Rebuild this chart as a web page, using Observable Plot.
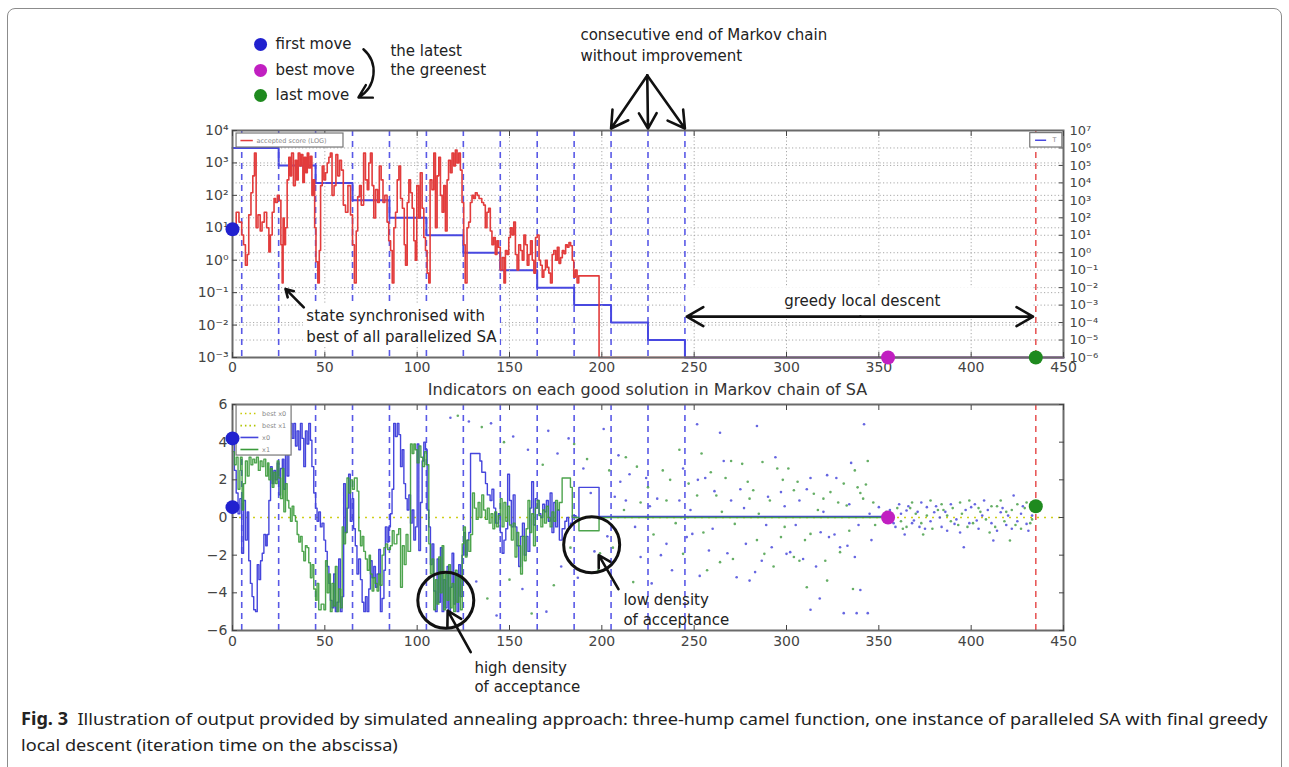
<!DOCTYPE html>
<html><head><meta charset="utf-8">
<script src="https://cdn.jsdelivr.net/npm/d3@7"></script>
<script src="https://cdn.jsdelivr.net/npm/@observablehq/plot@0.6"></script>
<style>
html,body{margin:0;padding:0;background:#fff;overflow:hidden;width:1289px;height:767px;}
#page{position:relative;width:1289px;height:767px;font-family:"DejaVu Sans",sans-serif;overflow:hidden;}
#border{position:absolute;left:7px;top:8px;width:1273px;height:820px;border:1.5px solid #8c8c8c;border-radius:8px;}
.layer{position:absolute;left:0;}
#title{position:absolute;left:232px;width:831px;top:380px;line-height:20px;text-align:center;font-size:16px;color:#333;}
#caption{position:absolute;left:21px;top:706px;font-family:"Noto Sans",sans-serif;font-size:17px;line-height:26px;color:#222;white-space:nowrap;transform-origin:0 0;}
#cap1{display:inline-block;}
</style></head><body><div id="page">
<div id="border"></div>
<div id="topT" class="layer" style="top:0"></div>
<div id="topMain" class="layer" style="top:0"></div>
<div id="title">Indicators on each good solution in Markov chain of SA</div>
<div id="bottom" class="layer" style="top:385px"></div>
<div id="caption"><span id="cap1"><b>Fig. 3</b>&nbsp; Illustration of output provided by simulated annealing approach: three-hump camel function, one instance of paralleled SA with final greedy</span><br>local descent (iteration time on the abscissa)</div>
</div>
<script>
// ---------- data ----------
const iterTicks = [0, 50, 100, 150, 200, 250, 300, 350, 400, 450];
const gridIters = [50, 100, 150, 200, 250, 300, 350, 400];
const chainEnds = [5, 25, 45, 65, 85, 105, 125, 145, 165, 185, 205, 225, 245];
const lastMoveIter = [435];
const scoreTicks = [1e-3, 1e-2, 1e-1, 1, 10, 100, 1e3, 1e4];
const tempTicks = [1e-6, 1e-5, 1e-4, 1e-3, 1e-2, 1e-1, 1, 10, 100, 1e3, 1e4, 1e5, 1e6, 1e7];
const posTicks = [-6, -4, -2, 0, 2, 4, 6];
const bestPosition = [0];

// accepted score (log axis), step series [iteration, score]
const acceptedScore = [
 [0,9],[1,12],[2,30],[3.5,15],[5,6],[6,3],[7,0.7],[8,1.5],[8.8,25],[10,120],[11,400],[11.9,2000],[12.8,10],[13.8,25],[15,8],[16,15],[17.2,30],[18.5,10],[19.7,1.8],[20.5,6],[21.5,30],[22.5,80],[23.3,60],[24.3,100],[25.3,70],[26.2,3],[26.9,0.2],[27.4,20],[28,3],[28.7,10],[29.6,300],[30.5,1500],[31.3,400],[32,2000],[33,200],[34,1200],[34.8,300],[35.6,2000],[36.5,800],[37.2,1800],[38.1,250],[38.9,1500],[39.7,500],[40.5,2000],[41.3,700],[42.2,1600],[43,100],[43.8,300],[44.5,10],[45.2,0.9],[46.2,0.2],[47,2],[47.7,200],[48.6,800],[49.5,300],[50.4,500],[51.3,1000],[52.2,1500],[53,2000],[53.9,100],[55,200],[56,1800],[57,400],[58,1200],[59,600],[60,50],[61.2,30],[62.5,200],[63.9,25],[65,3],[66,0.2],[67,8],[67.8,90],[68.8,200],[69.7,50],[71,2000],[72,300],[73,150],[73.8,1000],[74.7,2000],[75.6,200],[76.5,20],[77.5,150],[78.6,60],[79.5,800],[80.5,300],[81.5,60],[82.5,100],[83.7,15],[84.6,4],[85.6,2],[86.5,0.2],[87.4,10],[88.3,30],[89.2,300],[90.1,800],[91,80],[92,40],[93,3],[93.7,0.7],[94.6,60],[95.5,300],[96.4,120],[97.3,40],[98.2,4],[99,1],[99.8,200],[100.8,20],[101.7,500],[102.7,40],[103.6,5],[104.5,2],[105.4,0.4],[106.3,0.2],[107,300],[108,150],[109,2000],[109.9,10],[110.8,400],[111.7,1500],[112.6,100],[113.5,30],[114.4,200],[115.3,8],[116.2,300],[117,1200],[118,500],[118.9,2000],[119.8,800],[120.7,2500],[121.6,1000],[122.5,2000],[123.4,600],[124.3,60],[125.2,3],[126,0.2],[127,10],[127.9,15],[128.8,60],[129.7,100],[130.6,80],[131.5,120],[132.5,100],[133.5,80],[135,60],[136,50],[136.9,10],[137.8,30],[138.7,40],[139.6,8],[140.5,3],[141.4,5],[142.3,1.5],[143.2,4],[144,2.5],[145,0.5],[146,1.2],[147,0.2],[147.8,2],[148.7,1.5],[149.6,5],[150.5,10],[151.4,6],[152.3,15],[153.2,1.5],[154.1,0.5],[155,3],[156,2],[156.9,1],[157.8,6],[158.7,3],[159.6,0.7],[160.5,1.5],[161.4,4],[162.3,1],[163.2,0.4],[164.1,5],[165,6],[166,1],[166.8,0.7],[167.7,0.3],[168.6,0.5],[169.5,1],[170.4,0.6],[171.3,0.4],[172.2,0.2],[173.1,1.5],[174,2],[175,1],[175.9,2.5],[176.8,0.8],[177.7,1.2],[178.6,2],[179.5,1.6],[180.4,3],[181.3,2.5],[182.2,3.5],[183.1,2.8],[184,1],[184.8,0.3],[185.7,0.5],[186.6,0.2],[187.5,0.33],[198.5,0.001],[450,0.001]
];
// temperature T (right log axis), step series
const temperature = [[0,1e6],[25,1e5],[45,1e4],[65,1e3],[85,100],[105,10],[125,1],[145,0.1],[165,0.01],[185,1e-3],[205,1e-4],[225,1e-5],[245,1e-6],[450,1e-6]];

// accepted state coordinates (step series)
const x0Path = [
 [0,4.2],[1,2.5],[2,1.3],[3,0.2],[4,1.0],[5,-1.9],[6,0.9],[7,-1.2],[8,0.3],[8.8,-2.3],[9.7,-3.5],[10.6,-4.2],[11.5,-4.9],[12.5,-5],[13.4,-2.5],[14.3,-3.3],[15.2,-2.3],[16.1,-1.9],[17,-0.9],[18,-1.5],[18.8,-0.9],[19.7,0.9],[20.6,2.7],[21.5,1.8],[22.4,2.5],[23.3,2.0],[24.2,2.9],[25.1,1.2],[26,2.6],[27,3.1],[27.8,1.5],[28.7,3.5],[29.6,2.2],[30.5,4.4],[31.4,5],[32.3,4.2],[33.2,5],[34.1,3.8],[35,4.6],[35.9,3.6],[36.8,5],[37.7,4.2],[38.6,2.7],[39.5,4.6],[40.4,3.9],[41.3,5],[42.2,4.1],[43,2.7],[44,1.3],[45,0.5],[45.8,-0.2],[46.7,0.3],[47.6,-0.5],[48.5,-0.3],[49.5,-1.2],[50.4,-1.8],[51.3,-2.6],[52.2,-3.5],[53,-4.4],[53.9,-4.8],[54.8,-3],[55.7,-5],[56.6,-4.5],[57.5,-2.2],[58.4,-5],[59.3,-4.2],[60.2,1.8],[61.1,-0.8],[62,0.5],[62.9,2.3],[63.8,-0.2],[64.7,1.0],[65.6,-0.6],[66.5,-1.5],[67.4,-3.0],[68.3,-2.2],[69.3,-3.3],[70.2,-4.5],[71.1,-5],[72,-4.2],[72.9,-5],[73.8,-3.8],[74.7,-2.3],[75.6,-3.2],[76.5,-2.6],[77.4,-3.7],[78.3,-3.0],[79.2,-1.7],[80.1,-5],[81,-4.3],[82,-2.8],[82.8,-0.5],[83.7,-1.3],[84.6,-0.5],[85.5,0.2],[86.4,1.5],[87.3,5],[88.2,4.3],[89.2,5],[90.1,4.4],[91,2.7],[91.9,3.6],[92.8,1.8],[93.7,1.0],[94.6,0.4],[95.5,1.2],[96.4,-0.3],[97.3,0.4],[98.2,-1.2],[99.1,-0.5],[100,3.9],[100.9,-1.75],[101.8,0.8],[102.7,3.0],[103.6,4.0],[104.5,3.6],[105.4,0.4],[106.3,-0.5],[107.2,-2.5],[108.1,-1.4],[109,-3.9],[109.9,-5],[110.8,-2.2],[111.7,-4.5],[112.6,-1.6],[113.5,-5],[114.4,-3.3],[115.3,-4.8],[116.2,-2.6],[117.1,-5],[118,-3.7],[118.9,-1.9],[119.8,-4.6],[120.7,-3.1],[121.6,-5],[122.5,-2.5],[123.4,-4.2],[124.3,-2],[125.2,-0.8],[126.1,-2],[127,-1.2],[128,-0.8],[128.9,3.4],[132,3.4],[134,3.0],[135,2.4],[137,1.8],[138,1.2],[139.5,0.9],[140.5,1.5],[141.5,0.5],[142.5,-0.3],[144,0.2],[145,-0.8],[146,-1.9],[147,-1.2],[148,-0.6],[149,2.3],[150,0.9],[151,-0.5],[152,1.2],[153,-0.5],[154,-1.5],[155,-2.6],[156,-1.0],[157,-0.3],[158,-2.0],[159,-1.0],[160,-1.8],[161,0.5],[162,1.9],[163,-0.4],[164,1.0],[165,0.9],[166,0.2],[167,0.0],[168,0.7],[169,0.3],[170,0.9],[171,-0.2],[172,1.3],[173,-0.8],[174,0.8],[175,-0.5],[176,0.4],[177,-1.2],[178.5,-0.6],[180,-0.2],[181,0.0],[182,-0.5],[183,-0.3],[184,0.1],[186,0.0],[187.6,1.6],[198.5,0.05],[355,0.05]
];
const x1Path = [
 [0,3.5],[1,2.8],[2,3.2],[3,1.5],[4,2.5],[4.3,3.2],[5.2,0.4],[6,1.8],[7,3.0],[8,2.2],[9,3.2],[10,2.8],[11,3.1],[12,2.9],[13,3.2],[14,2.5],[15,3.0],[16,2.7],[17,3.1],[18,2.2],[19,2.9],[19.7,2.0],[20.6,2.6],[21.5,1.6],[22.4,2.4],[23.3,1.8],[24.2,3.0],[25.1,2.1],[26,1.0],[27,2.6],[27.8,0.3],[28.7,1.8],[29.6,0.9],[30.5,0.5],[31.4,-0.2],[32.3,0.6],[33.2,0.1],[34.1,-0.2],[35,-0.9],[35.9,-1.3],[36.8,-1.0],[37.7,-1.8],[38.6,-2.3],[39.5,-1.5],[40.4,-1.6],[41.3,-2.4],[42.2,-3.2],[43.1,-2.5],[44,-3.8],[45,-4.4],[45.8,-3.5],[46.7,-4.9],[48,-4.6],[49.5,-4.9],[50.4,-2.3],[51.3,-4],[52.2,-3],[53,-5],[53.9,-3.5],[54.8,-4.7],[55.7,-2.6],[56.6,-5],[57.5,-3.8],[58.5,-4.8],[59.4,-0.5],[60.3,-1.4],[61.2,-0.8],[62,2.1],[63,1.3],[64,2.0],[65,1.5],[66,2.1],[67.5,1.4],[68.4,-0.7],[69.3,-1.5],[70.2,-1.0],[71.1,-1.8],[72,-2.2],[73,-2.8],[74,-2.0],[74.7,-3.0],[75.6,-3.9],[76.5,-3.2],[77.4,-3.5],[78.3,-3.9],[79.2,-3.0],[80,-3.6],[81,-2.0],[82,-1.6],[83,-1.4],[84,-1.7],[85.5,-1.5],[86.5,-0.7],[87.5,-1.4],[89,-0.9],[90,-0.6],[91,-3.7],[92,-1.5],[93,-2.5],[94,-0.9],[95,-1.8],[96.4,3.9],[97.3,3.4],[98.2,3.9],[99,3.6],[100,2.9],[101,3.8],[102,3.2],[103,2.7],[104,3.5],[105,2.8],[106.3,-1.4],[107.2,-3],[108.1,-2.2],[109,-4.9],[109.9,-3.3],[110.8,-4.6],[111.7,-2.1],[112.6,-4],[113.5,-1.5],[114.4,-4.9],[115.3,-3],[116.2,-4.4],[117.1,-2.5],[118,-4.8],[118.9,-3.5],[119.8,-5],[120.7,-2.8],[121.6,-4.5],[122.5,-3.2],[123.4,-4.9],[124.4,-1.4],[125.2,-0.5],[126.1,-2.1],[127,-1.2],[128,-1.8],[129,-0.9],[130,1.3],[131,0.5],[132,-0.1],[133,0.8],[134,0.0],[135,1.2],[136,0.4],[137,-0.1],[138,0.5],[139,-0.3],[140,0.2],[141,-0.6],[142,0.3],[143,-0.5],[144,0.1],[145,1.0],[146,-0.5],[147,0.8],[148,-0.2],[149,0.6],[150,-0.4],[151,-1.2],[152,-0.3],[153,-2.1],[154,-0.8],[155,-1.5],[156,-3.0],[157,-1.0],[158,-2.3],[159,-0.6],[160,0.9],[161,-0.8],[162,0.2],[163,-1.5],[164,0.5],[165,0.9],[166,0.1],[167,-0.5],[168,0.4],[169,-0.3],[170,0.6],[171,0.0],[172,-0.5],[173,0.3],[174,-0.2],[175,0.9],[176,0.4],[177,0.8],[178.5,2.1],[183,1.6],[184,0.0],[187.6,-0.7],[198.5,0.0],[355,0.0]
];
// proposed (tried) coordinates
const x0Tried = [
 [118,5.3],[128,5.1],[132,-3.4],[140,5.0],[143,-5.2],[152,4.3],[157,-3.8],[160,3.6],[170,-5.0],[171,4.6],[176,3.4],[178,-2.6],[182,4.2],[187,-3.2],[190,2.6],[194,1.3],[196,-1.8],[201,4.7],[203,-1.0],[207,1.1],[209,3.3],[210,1.9],[213,0.9],[215,2.3],[218,-0.5],[221,-2.1],[224,2.1],[226,0.6],[227,-3.5],[230,1.0],[232,-2.0],[235,-1.4],[238,-2.8],[242,0.9],[244,2.6],[246,-1.04],[248,0.4],[249,-0.87],[251.6,4.95],[252,2.0],[253,-3.1],[256,2.1],[258,-1.75],[260,-0.6],[261,1.4],[264,4.5],[266,3.0],[268,-1.9],[270,0.9],[273,-3.17],[275,1.5],[277,0.5],[278,-1.4],[280,-3.35],[283,-2.9],[284,4.86],[286.6,-2.3],[289,-0.4],[290,1.1],[292,-1.58],[294,3.2],[297,1.35],[299,0.6],[300,-1.93],[302,-1.84],[305,-0.4],[307,0.9],[309,-2.2],[311,1.5],[313,2.1],[313,-4.9],[316,-2.6],[318,-4.3],[318.5,-0.78],[320,0.3],[322,2.25],[323,-1.04],[326,-0.9],[327,2.1],[329,-1.58],[331,-5.08],[333,-1.5],[334,0.7],[335,2.9],[337,-2.1],[338,-5.08],[339,-0.4],[340,-3.85],[342,4.95],[344,-5.08],[345,0.2],[346,-1.2],[350,0.55],
 [356,0.4],[358,-0.3],[359,-0.5],[361,0.7],[362,0.2],[364,-0.9],[365,0.37],[366,0.6],[368,-0.3],[369,-0.16],[371,0.3],[372,-0.5],[373,0.8],[375,-0.6],[376,0.55],[378,-0.2],[380,0.28],[381,0.6],[383,0.0],[384,-0.5],[386,0.3],[387,-0.7],[389,0.7],[391,-0.34],[392,-0.1],[394,-0.8],[396,-1.58],[397,0.4],[399,-0.3],[400,0.55],[402,0.7],[403,-0.16],[404,-0.6],[406,0.1],[407,0.9],[409,0.4],[411,-0.3],[412,-1.22],[414,-0.7],[416,0.28],[417,0.5],[419,-0.4],[420,0.1],[422,-0.6],[423,1.17],[425,-0.2],[427,0.2],[428,0.6],[430,-0.34],[431,-0.7],[433,0.1],[434,0.4]
];
const x1Tried = [
 [122,5.4],[135,4.8],[138,-4.3],[147,4.0],[150,-3.3],[162,-5.1],[168,2.8],[174,-3.6],[183,-1.6],[185,3.9],[192,3.1],[198,-2.8],[199,-1.9],[204,2.5],[206,-1.6],[212,0.4],[213,3.2],[217,-3.43],[219,2.7],[221,0.8],[225,1.6],[228,-0.9],[233,2.5],[235,0.9],[237,2.0],[240,-0.3],[242,3.6],[244,-1.93],[247,1.8],[251.6,1.17],[254,3.4],[255,-0.8],[257,-2.8],[259,2.4],[262,1.17],[264,-2.37],[265,0.3],[267,2.1],[270,3.0],[271,-2.2],[272,-0.34],[276,2.85],[279,1.9],[280,1.0],[282,1.45],[284,-1.2],[285,0.2],[287,2.95],[288,-1.93],[291,0.9],[293,-2.6],[295,2.6],[297,-1.04],[298,2.0],[299,-0.5],[301,2.6],[304,1.45],[304,-2.1],[306,1.9],[307,-2.3],[310,-1.2],[311,-3.7],[313,-0.87],[314.8,1.26],[317,0.4],[320,1.0],[321,-2.3],[322,-3.35],[323.8,1.35],[328,0.8],[329,-1.84],[331,1.8],[332.6,0.64],[334,-0.7],[336,-3.8],[337,2.5],[338.5,1.6],[340,1.3],[341.5,1.0],[343,1.75],[344,3.0],[347,0.8],[348,-0.4],[354,0.3],
 [357,0.1],[360,0.5],[362,-0.2],[363,-0.6],[365,-0.5],[367,0.5],[368,0.8],[370,0.2],[373,-0.3],[374,-0.9],[376,0.1],[378,0.9],[379,-0.6],[382,0.4],[384,0.7],[385,0.4],[387,0.1],[389,-0.2],[390,0.5],[393,-0.4],[394,0.8],[395,0.2],[398,-0.5],[399,0.9],[401,-0.3],[404,0.5],[405,0.3],[408,-0.1],[410,-0.8],[411,0.6],[413,-0.5],[414,0.6],[416,0.9],[418,-0.2],[419,0.3],[421,-1.22],[422,0.4],[424,-0.4],[425,0.7],[427,-0.6],[429,0.5],[430,0.8],[432,-0.3],[433,-0.1]
];
// highlighted moves
const moveNames = ["first move", "best move", "last move"];
const moveColors = ["#2121cf", "#c11fc1", "#1f8a1f"];
const scoreMoves = [[0, 9, 0], [355, 0.001, 1], [435, 0.001, 2]];
const positionMoves = [[0, 4.2, 0], [0, 0.55, 0], [355, 0, 1], [435, 0.6, 2]];

// ---------- layout / annotations (not data) ----------
const sup = {"-":"⁻","0":"⁰","1":"¹","2":"²","3":"³","4":"⁴","5":"⁵","6":"⁶","7":"⁷","8":"⁸","9":"⁹"};
const pow10 = v => "10" + String(Math.round(Math.log10(v))).split("").map(c => sup[c]).join("");
const blank = () => "";
const FONT = "DejaVu Sans";
const W = 1289, ML = 232, MR = 226;
const topDims = {width: W, height: 380, marginLeft: ML, marginRight: MR, marginTop: 130, marginBottom: 23};
const gridStyle = {stroke: "#a8a8a8", strokeWidth: 1, strokeDasharray: "1.2,2.3"};
const blueDash = {stroke: "#4747e3", strokeWidth: 1.6, strokeDasharray: "6,5", strokeOpacity: 0.9};
const redDash = {stroke: "#e85a5a", strokeWidth: 1.6, strokeDasharray: "6,5"};
const NOTE = 15;

const legendRows = moveNames.map((name, i) => ({name, color: moveColors[i], y: [4.5e6, 7.1e5, 1.2e5][i]}));
const topNotes = [
  {x: 85.5, y: 2.8e6, text: "the latest"},
  {x: 85.5, y: 7.1e5, text: "the greenest"},
  {x: 188.4, y: 8.5e6, text: "consecutive end of Markov chain"},
  {x: 188.4, y: 2.0e6, text: "without improvement"},
  {x: 40, y: 0.0182, text: "state synchronised with"},
  {x: 40, y: 0.00437, text: "best of all parallelized SA"}
];
const centeredNotes = [{x: 341, y: 0.056, text: "greedy local descent"}];
const topArrows = [
  {x1: 224.6, y1: 5e5, x2: 205, y2: 1.15e4},
  {x1: 224.6, y1: 5e5, x2: 225, y2: 1.15e4},
  {x1: 224.6, y1: 5e5, x2: 245, y2: 1.15e4},
  {x1: 38.6, y1: 0.035, x2: 28.7, y2: 0.13},
  {x1: 340, y1: 0.0182, x2: 246, y2: 0.0182},
  {x1: 340, y1: 0.0182, x2: 433.5, y2: 0.0182}
];
const whiteBoxes = [
  {x1: 38.4, x2: 145, y1: 0.0023, y2: 0.046},
  {x1: 245.6, x2: 433.5, y1: 0.0195, y2: 0.1426}
];

const T = document.getElementById("topT");
T.append(Plot.plot({
  ...topDims,
  style: {background: "transparent", fontFamily: FONT, fontSize: "13px", color: "#444"},
  x: {domain: [0, 450], axis: null},
  y: {type: "log", domain: [1e-6, 1e7]},
  marks: [
    Plot.ruleY(tempTicks, gridStyle),
    Plot.line(temperature, {x: d => d[0], y: d => d[1], curve: "step-after", stroke: "#4848e0", strokeWidth: 2}),
    Plot.axisY(tempTicks, {anchor: "right", tickSize: 0, tickPadding: 6, tickFormat: pow10, fontSize: 13, label: null}),
    Plot.axisY(tempTicks, {anchor: "right", tickSize: -5, tickFormat: blank, label: null})
  ]
}));

const M = document.getElementById("topMain");
M.append(Plot.plot({
  ...topDims,
  style: {background: "transparent", fontFamily: FONT, fontSize: "14px", color: "#444", overflow: "visible"},
  x: {domain: [0, 450]},
  y: {type: "log", domain: [1e-3, 1e4]},
  marks: [
    Plot.ruleY(scoreTicks, gridStyle),
    Plot.ruleX(gridIters, gridStyle),
    Plot.ruleX(chainEnds, blueDash),
    Plot.ruleX(lastMoveIter, redDash),
    Plot.rect(whiteBoxes, {x1: "x1", x2: "x2", y1: "y1", y2: "y2", fill: "white"}),
    Plot.line(acceptedScore, {x: d => d[0], y: d => d[1], curve: "step-after", stroke: "#e23c3c", strokeWidth: 1.6}),
    Plot.frame({stroke: "#6a6a6a", strokeWidth: 2}),
    Plot.axisX(iterTicks, {anchor: "bottom", tickSize: 0, tickPadding: 5, fontSize: 14, label: null}),
    Plot.axisX(iterTicks, {anchor: "bottom", tickSize: -5, tickFormat: blank, label: null}),
    Plot.axisX(iterTicks, {anchor: "top", tickSize: -5, tickFormat: blank, label: null}),
    Plot.axisY(scoreTicks, {anchor: "left", tickSize: 0, tickPadding: 4, tickFormat: pow10, fontSize: 14, label: null}),
    Plot.axisY(scoreTicks, {anchor: "left", tickSize: -5, tickFormat: blank, label: null}),
    // in-plot legends
    Plot.rect([{x1: 2.2, x2: 60.1, y1: 2985, y2: 8080}, {x1: 432, x2: 449.4, y1: 2985, y2: 8300}], {x1: "x1", x2: "x2", y1: "y1", y2: "y2", fill: "white", stroke: "#777", strokeWidth: 1.2}),
    Plot.link([{x1: 4.3, x2: 11, y: 4900, c: "#e23c3c"}, {x1: 434.6, x2: 440.6, y: 5000, c: "#4848e0"}], {x1: "x1", x2: "x2", y1: "y", y2: "y", stroke: "c", strokeWidth: 1.5}),
    Plot.text([{x: 13, y: 4900, t: "accepted score (LOG)"}, {x: 444, y: 5000, t: "T"}], {x: "x", y: "y", text: "t", textAnchor: "start", fontSize: 6.5, fill: "#888"}),
    // move markers
    Plot.dot(scoreMoves, {x: d => d[0], y: d => d[1], r: 7, fill: d => moveColors[d[2]]}),
    // annotations
    Plot.text(topNotes, {x: "x", y: "y", text: "text", textAnchor: "start", fontSize: NOTE, fill: "#222"}),
    Plot.text(centeredNotes, {x: "x", y: "y", text: "text", textAnchor: "middle", fontSize: NOTE, fill: "#222"}),
    Plot.arrow(topArrows, {x1: "x1", y1: "y1", x2: "x2", y2: "y2", stroke: "#111", strokeWidth: 2.6, headLength: 11}),
    Plot.dot(legendRows, {x: 15.2, y: "y", r: 6.5, fill: "color"}),
    Plot.text(legendRows, {x: 23.3, y: "y", text: "name", textAnchor: "start", fontSize: NOTE, fill: "#222"}),
    Plot.arrow([{x1: 70.9, y1: 3.2e6, x2: 68.2, y2: 1.05e5}], {x1: "x1", y1: "y1", x2: "x2", y2: "y2", bend: 55, stroke: "#111", strokeWidth: 2.4, headLength: 9})
  ]
}));

const botNotes = [
  {x: 131, y: -8.0, text: "high density"},
  {x: 131, y: -9.0, text: "of acceptance"},
  {x: 211.7, y: -4.4, text: "low density"},
  {x: 211.7, y: -5.45, text: "of acceptance"}
];
const botArrows = [
  {x1: 129, y1: -7.15, x2: 116.5, y2: -4.95},
  {x1: 209, y1: -3.8, x2: 198.3, y2: -2.0}
];
const circles = [{x: 115.5, y: -4.4}, {x: 194.5, y: -1.45}];
const botLegendBest = [
  {label: "best x0", y: 5.52, c: "#c8c800"},
  {label: "best x1", y: 4.88, c: "#b0c400"}
];
const botLegendPath = [
  {label: "x0", y: 4.25, c: "#4545dc"},
  {label: "x1", y: 3.61, c: "#3a9a3a"}
];

const B = document.getElementById("bottom");
B.append(Plot.plot({
  width: W, height: 320, marginLeft: ML, marginRight: MR, marginTop: 19, marginBottom: 75,
  style: {background: "transparent", fontFamily: FONT, fontSize: "14px", color: "#444", overflow: "visible"},
  x: {domain: [0, 450]},
  y: {domain: [-6, 6]},
  marks: [
    Plot.ruleY(bestPosition, {stroke: "#cfcf1a", strokeWidth: 1.5, strokeDasharray: "2,5"}),
    Plot.ruleX(chainEnds, blueDash),
    Plot.ruleX(lastMoveIter, redDash),
    Plot.dot(x0Tried, {x: d => d[0], y: d => d[1], r: 1.3, fill: "#4b4bdc", fillOpacity: 0.85}),
    Plot.dot(x1Tried, {x: d => d[0], y: d => d[1], r: 1.3, fill: "#4aa04a", fillOpacity: 0.85}),
    Plot.line(x0Path, {x: d => d[0], y: d => d[1], curve: "step-after", stroke: "#4545dc", strokeWidth: 1.4}),
    Plot.line(x1Path, {x: d => d[0], y: d => d[1], curve: "step-after", stroke: "#3a9a3a", strokeWidth: 1.4, strokeOpacity: 0.9}),
    Plot.frame({stroke: "#6a6a6a", strokeWidth: 2}),
    Plot.axisX(iterTicks, {anchor: "bottom", tickSize: 0, tickPadding: 6, fontSize: 14, label: null}),
    Plot.axisX(iterTicks, {anchor: "bottom", tickSize: -5, tickFormat: blank, label: null}),
    Plot.axisX(iterTicks, {anchor: "top", tickSize: -5, tickFormat: blank, label: null}),
    Plot.axisY(posTicks, {anchor: "left", tickSize: 0, tickPadding: 5, fontSize: 14, label: null}),
    Plot.axisY(posTicks, {anchor: "left", tickSize: -5, tickFormat: blank, label: null}),
    Plot.axisY(posTicks, {anchor: "right", tickSize: -5, tickFormat: blank, label: null}),
    // legend box
    Plot.rect([{x1: 2.2, x2: 32, y1: 3.29, y2: 5.95}], {x1: "x1", x2: "x2", y1: "y1", y2: "y2", fill: "white", stroke: "#777", strokeWidth: 1.2}),
    Plot.link(botLegendBest, {x1: 4.3, x2: 14, y1: "y", y2: "y", stroke: "c", strokeWidth: 1.6, strokeDasharray: "1.5,3"}),
    Plot.link(botLegendPath, {x1: 4.3, x2: 14, y1: "y", y2: "y", stroke: "c", strokeWidth: 1.6}),
    Plot.text([...botLegendBest, ...botLegendPath], {x: 16, y: "y", text: "label", textAnchor: "start", fontSize: 6.5, fill: "#888"}),
    // move markers
    Plot.dot(positionMoves, {x: d => d[0], y: d => d[1], r: 7, fill: d => moveColors[d[2]]}),
    // annotations
    Plot.dot(circles, {x: "x", y: "y", r: 28, stroke: "#111", strokeWidth: 3, fill: "none"}),
    Plot.arrow(botArrows, {x1: "x1", y1: "y1", x2: "x2", y2: "y2", stroke: "#111", strokeWidth: 2.6, headLength: 11}),
    Plot.text(botNotes, {x: "x", y: "y", text: "text", textAnchor: "start", fontSize: NOTE, fill: "#222"})
  ]
}));

// fit caption first line to the reference width (offsetWidth ignores transforms)
const fitCaption = () => {
  const w = document.getElementById("cap1").offsetWidth;
  if (w > 0) document.getElementById("caption").style.transform = `scaleX(${1246 / w})`;
};
fitCaption();
if (document.fonts && document.fonts.ready) document.fonts.ready.then(fitCaption);
</script>
</body></html>
